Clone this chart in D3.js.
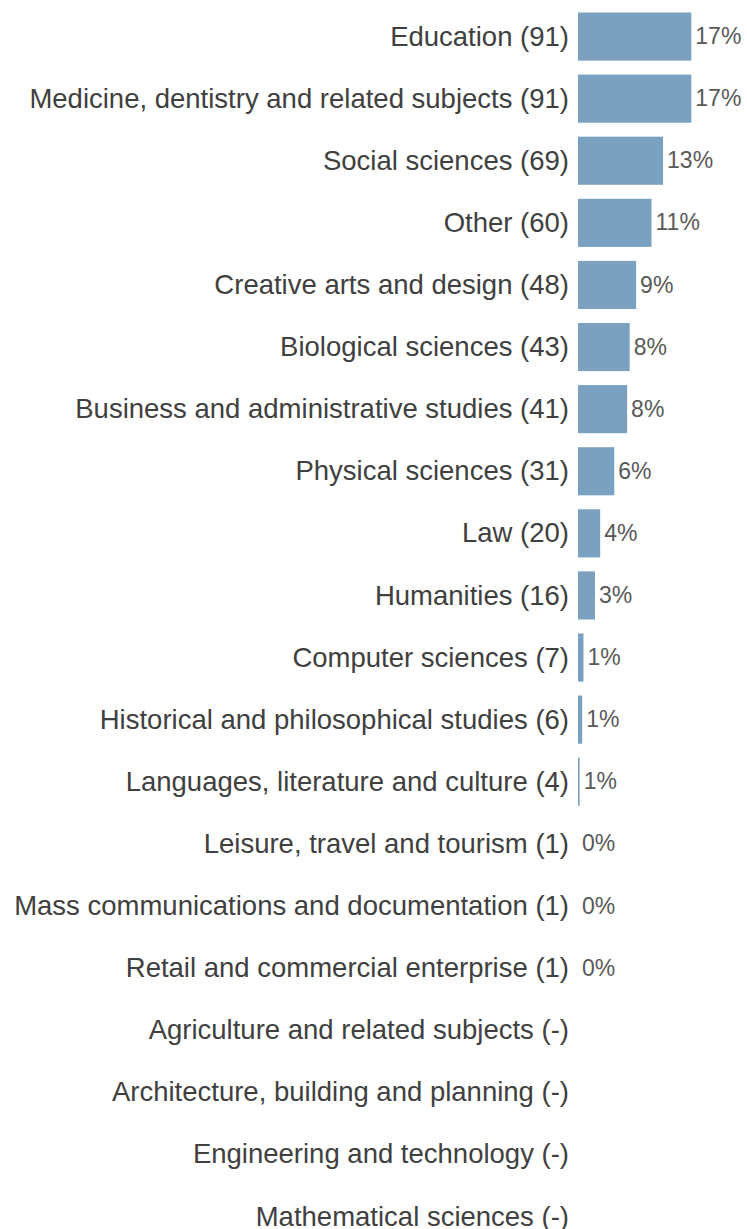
<!DOCTYPE html>
<html><head><meta charset="utf-8">
<script src="https://cdn.jsdelivr.net/npm/d3@7"></script>
<style>html,body{margin:0;padding:0;background:#fff;overflow:hidden}</style>
</head><body>
<svg id="c" width="747" height="1229"></svg>
<script>
const categories = ["Education","Medicine, dentistry and related subjects","Social sciences","Other","Creative arts and design","Biological sciences","Business and administrative studies","Physical sciences","Law","Humanities","Computer sciences","Historical and philosophical studies","Languages, literature and culture","Leisure, travel and tourism","Mass communications and documentation","Retail and commercial enterprise","Agriculture and related subjects","Architecture, building and planning","Engineering and technology","Mathematical sciences"];
const counts = [91,91,69,60,48,43,41,31,20,16,7,6,4,1,1,1,0,0,0,0];
const total = d3.sum(counts);
const data = categories.map((c,i)=>({cat:c, v:counts[i]}));

const svg = d3.select("#c");
const y = d3.scaleBand().domain(categories).range([5.5, 5.5+62.1*20]).paddingInner(0.225).paddingOuter(0.1125);
const x = d3.scaleLinear().domain([0, 91]).range([574.5, 691.3]);
const barStart = 578;

const g = svg.append("g");
g.selectAll("rect").data(data.filter(d=>d.v>0)).join("rect")
  .attr("x", barStart)
  .attr("y", d=>y(d.cat))
  .attr("width", d=>Math.max(0, x(d.v)-barStart))
  .attr("height", y.bandwidth())
  .attr("fill", "#7aa2c0");

g.selectAll("text.lab").data(data).join("text").attr("class","lab")
  .attr("x", 569)
  .attr("y", d=>y(d.cat)+y.bandwidth()/2)
  .attr("dy","0.33em")
  .attr("text-anchor","end")
  .attr("font-family","'Liberation Sans', Arial, sans-serif")
  .attr("font-size", 27.5)
  .attr("fill","#404040")
  .text(d=>d.cat + (d.v>0 ? " ("+d.v+")" : " (-)"));

g.selectAll("text.val").data(data.filter(d=>d.v>0)).join("text").attr("class","val")
  .attr("x", d=>Math.max(barStart, x(d.v))+4)
  .attr("y", d=>y(d.cat)+y.bandwidth()/2)
  .attr("dy","0.33em")
  .attr("font-family","'Liberation Sans', Arial, sans-serif")
  .attr("font-size", 23)
  .attr("fill","#595959")
  .text(d=>Math.round(d.v/total*100)+"%");
</script>
</body></html>
